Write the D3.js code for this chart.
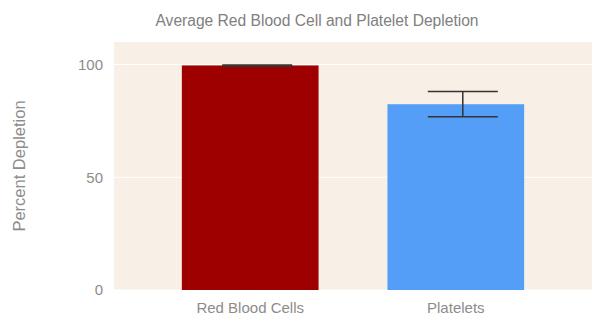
<!DOCTYPE html>
<html lang="en">
<head>
  <meta charset="UTF-8">
  <title>Average Red Blood Cell and Platelet Depletion</title>
  <style>
    body, html {
      margin: 0;
      padding: 0;
      background: #fff;
      font-family: "Liberation Sans", Arial, sans-serif;
    }
  </style>
</head>
<body>
  <svg id="svg" width="592" height="318"></svg>

  <script src="https://cdn.jsdelivr.net/npm/d3@7"></script>
  <script>
    const categories = ['Red Blood Cells', 'Platelets'];
    const means = [99.6, 82.4];
    const errors = [0.2, 5.6];
    const barColors = ['#9e0000', '#559ef8'];
    const yTicks = [0, 50, 100];

    const data = categories.map((c, i) => ({ name: c, value: means[i], err: errors[i], color: barColors[i] }));

    const margin = { top: 42, right: 0, bottom: 28, left: 114 };
    const width = 592 - margin.left - margin.right;
    const height = 318 - margin.top - margin.bottom;

    const svg = d3.select('#svg');
    const g = svg.append('g')
      .attr('transform', `translate(${margin.left},${margin.top})`);

    const xScale = d3.scaleBand()
      .domain(categories)
      .range([0, width])
      .paddingInner(0.335)
      .paddingOuter(0.33);

    const yScale = d3.scaleLinear()
      .domain([0, 110])
      .range([height, 0]);

    // plot background
    g.append('rect')
      .attr('width', width)
      .attr('height', height)
      .attr('fill', '#f8f0e6');

    // grid lines
    g.append('g')
      .selectAll('line')
      .data(yTicks)
      .enter()
      .append('line')
      .attr('x1', 0)
      .attr('x2', width)
      .attr('y1', d => yScale(d))
      .attr('y2', d => yScale(d))
      .attr('stroke', '#ffffff')
      .attr('stroke-width', 1);

    // bars
    g.append('g')
      .selectAll('rect')
      .data(data)
      .enter()
      .append('rect')
      .attr('x', d => xScale(d.name))
      .attr('y', d => yScale(d.value))
      .attr('width', xScale.bandwidth())
      .attr('height', d => height - yScale(d.value))
      .attr('fill', d => d.color);

    // error bars (drawn a little right of bar centre, like the original)
    const capHalf = 35;
    const errX = d => xScale(d.name) + xScale.bandwidth() / 2 + 7;
    const eb = g.append('g')
      .selectAll('g')
      .data(data)
      .enter()
      .append('g')
      .attr('stroke', '#333')
      .attr('stroke-width', 1.5);

    eb.append('line')
      .attr('x1', errX).attr('x2', errX)
      .attr('y1', d => yScale(d.value + d.err))
      .attr('y2', d => yScale(d.value - d.err));
    eb.append('line')
      .attr('x1', d => errX(d) - capHalf).attr('x2', d => errX(d) + capHalf)
      .attr('y1', d => yScale(d.value + d.err))
      .attr('y2', d => yScale(d.value + d.err));
    eb.append('line')
      .attr('x1', d => errX(d) - capHalf).attr('x2', d => errX(d) + capHalf)
      .attr('y1', d => yScale(d.value - d.err))
      .attr('y2', d => yScale(d.value - d.err));

    // Y axis
    const yAxis = g.append('g')
      .call(d3.axisLeft(yScale).tickValues(yTicks).tickSize(0).tickPadding(11));
    yAxis.select('.domain').remove();
    yAxis.selectAll('text')
      .attr('fill', '#8c8c8c')
      .style('font-size', '15px')
      .style('font-family', '"Liberation Sans", Arial, sans-serif');

    // X axis
    const xAxis = g.append('g')
      .attr('transform', `translate(0,${height})`)
      .call(d3.axisBottom(xScale).tickSize(0).tickPadding(12));
    xAxis.select('.domain').remove();
    xAxis.selectAll('text')
      .attr('fill', '#8c8c8c')
      .style('font-size', '15px')
      .style('font-family', '"Liberation Sans", Arial, sans-serif');

    // Y axis label
    svg.append('text')
      .attr('transform', `translate(25,${margin.top + height / 2}) rotate(-90)`)
      .attr('text-anchor', 'middle')
      .attr('fill', '#8c8c8c')
      .style('font-size', '16.5px')
      .text('Percent Depletion');

    // title
    svg.append('text')
      .attr('x', 317)
      .attr('y', 26)
      .attr('text-anchor', 'middle')
      .attr('fill', '#808080')
      .style('font-size', '15.6px')
      .text('Average Red Blood Cell and Platelet Depletion');
  </script>
</body>
</html>
